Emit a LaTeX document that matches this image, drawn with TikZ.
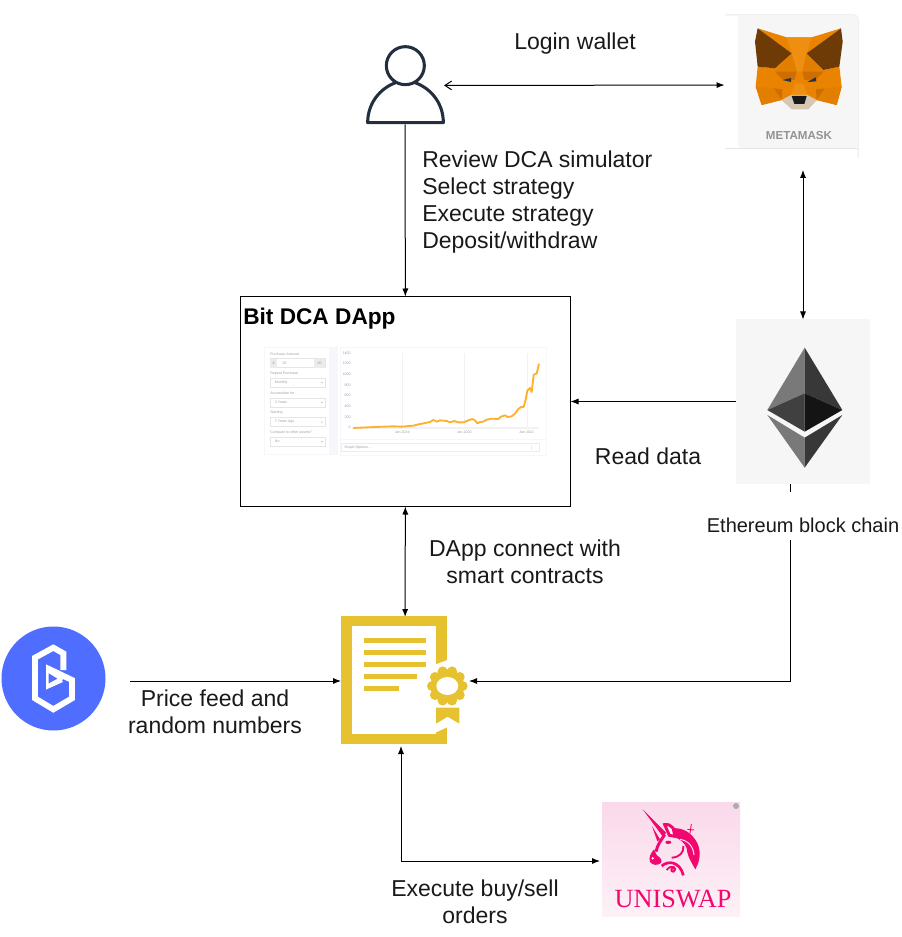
\documentclass[tikz,border=0pt]{standalone}
\usepackage{fontspec}
\setmainfont{Liberation Sans}
\newfontfamily\serifuni{Liberation Serif}
\usetikzlibrary{positioning,calc,arrows.meta}

\definecolor{usercol}{HTML}{232F3E}
\definecolor{cardgray}{HTML}{F6F6F6}
\definecolor{cardline}{HTML}{E6E6E6}
\definecolor{foxmain}{HTML}{E98300}
\definecolor{foxlight}{HTML}{EE8F12}
\definecolor{foxmid}{HTML}{E27E00}
\definecolor{foxdark}{HTML}{CF6E00}
\definecolor{foxear}{HTML}{6E3A06}
\definecolor{foxtan}{HTML}{D6C6B4}
\definecolor{foxeye}{HTML}{233447}
\definecolor{docgold}{HTML}{E6C130}
\definecolor{bandblue}{HTML}{4F6DFF}
\definecolor{unipink}{HTML}{F2076F}
\definecolor{unibg}{HTML}{FAD9EA}
\definecolor{unibgb}{HTML}{FDF1F7}
\definecolor{panelline}{HTML}{F5F7FB}
\definecolor{chartline}{HTML}{FFB030}

\tikzset{
  lbl/.style={font=\fontsize{17.25}{20.25}\selectfont,text=black!90,align=center,inner sep=0pt},
  tinytxt/.style={font=\fontsize{2.7}{3}\selectfont,text=gray!75,anchor=west,inner sep=0pt},
  logobox/.style={inner sep=0pt,outer sep=0pt},
  link/.style={draw=black,line width=.75pt},
}

\begin{document}
\begin{tikzpicture}[x=.75pt,y=-.75pt,>={Latex[length=6pt,width=4.6pt]}]
\useasboundingbox (0,0) rectangle (901,937);

% logo holders
\node[logobox,minimum width=58.5pt,minimum height=58.5pt] (user) at (405,85.5) {};
\node[logobox,minimum width=100.5pt,minimum height=105pt] (metamask) at (791.5,85) {};
\node[logobox,fill=cardgray,minimum width=100.5pt,minimum height=123pt] (ethereum) at (803,401.5) {};
\node[draw,line width=.75pt,minimum width=247.5pt,minimum height=157.5pt,logobox] (dapp) at (405.5,401.5) {};
\node[logobox,minimum width=96pt,minimum height=96pt] (contract) at (405,681) {};
\node[logobox,circle,fill=bandblue,minimum size=78pt] (band) at (53.5,678.5) {};
\node[logobox,top color=unibg,bottom color=unibgb,minimum width=103.5pt,minimum height=85pt] (uniswap) at (671,859.5) {};

\coordinate (mmbottom) at (803,170);
\coordinate (ethbottom) at (790.5,484);
\coordinate (bandout) at (130,681);
\coordinate (contractlow) at (401,746);
\coordinate (uniin) at (600,861);

% connectors
\draw[link,{Straight Barb[length=5pt,width=6.5pt]}->] (user) -- (metamask);
\draw[link,->] (user) -- (dapp);
\draw[link,<->] (mmbottom) -- (ethereum);
\draw[link,->] (ethereum) -- (dapp);
\draw[link,<->] (dapp) -- (contract);
\draw[link,->] (ethbottom) |- (contract);
\draw[link,->] (bandout) -- (contract);
\draw[link,<->] (contractlow) |- (uniin);

% labels
\node[lbl] (loginlbl) at (575,44) {Login wallet};
\node[lbl,align=left,anchor=west] (reviewlbl) at (422,202.5) {Review DCA simulator\\Select strategy\\Execute strategy\\Deposit/withdraw};
\node[lbl] (readlbl) at (648,456.5) {Read data};
\node[lbl] (connectlbl) at (525,561.5) {DApp connect with\\smart contracts};
\node[lbl] (pricelbl) at (215,711.5) {Price feed and\\random numbers};
\node[lbl] (executelbl) at (475,902) {Execute buy/sell\\orders};
\node[anchor=base,inner sep=0pt,fill=white,font=\fontsize{15}{18}\selectfont,text=black!90,text height=30pt,text depth=6pt] (ethlbl) at (803,532) {Ethereum block chain};
\node[anchor=west,inner sep=0pt,font=\fontsize{17}{20}\selectfont\bfseries] (titlelbl) at (243,319) {Bit DCA DApp};

% person
\begin{scope}[shift={(355,35)},x=.25pt,y=-.25pt,draw=usercol,line width=2.3pt]
\draw (151,92) circle (57);
\draw[line join=round] (122,143) .. controls (75,160) and (38,205) .. (38,263) -- (265,263) .. controls (265,205) and (228,160) .. (180,143);
\end{scope}

% metamask
\draw[cardline,line width=.75pt,rounded corners=3pt] (725,15) -- (858,15) -- (858,158);
\fill[cardgray,rounded corners=3pt] (738,15) -- (858,15) -- (858,148) -- (738,148) -- cycle;
\draw[cardline,line width=.75pt] (725,148.5) -- (858,148.5);
\node[inner sep=0pt,font=\fontsize{8.7}{10}\selectfont\bfseries,text=gray!85] (mmtext) at (799,135.5) {METAMASK};
\begin{scope}[shift={(745,20)},x=.25pt,y=-.25pt]
\fill[foxmain] (38,25) -- (125,52) -- (200,52) -- (288,25) -- (185,100) -- (235,150) -- (283,140) -- (290,200) -- (275,255) -- (215,240) -- (190,265) -- (140,265) -- (110,240) -- (50,255) -- (32,200) -- (38,140) -- (90,145) -- (140,100) -- cycle;
\fill[foxlight] (125,52) -- (200,52) -- (185,100) -- (172,155) -- (155,155) -- (140,100) -- cycle;
\fill[foxmid] (90,155) -- (140,100) -- (155,155) -- cycle;
\fill[foxmid] (235,155) -- (185,100) -- (172,155) -- cycle;
\fill[foxdark] (90,155) -- (155,155) -- (148,180) -- (112,178) -- cycle;
\fill[foxdark] (235,155) -- (172,155) -- (178,180) -- (214,178) -- cycle;
\fill[foxear] (38,25) -- (140,100) -- (90,145) -- (38,140) -- (30,65) -- cycle;
\fill[foxear] (288,25) -- (185,100) -- (235,150) -- (283,140) -- (293,65) -- cycle;
\fill[foxdark] (85,205) -- (110,240) -- (112,208) -- cycle;
\fill[foxdark] (240,205) -- (215,240) -- (213,208) -- cycle;
\fill[foxmid] (32,200) -- (85,205) -- (110,240) -- (50,255) -- cycle;
\fill[foxmid] (290,200) -- (240,205) -- (215,240) -- (275,255) -- cycle;
\fill[foxlight] (150,190) -- (175,190) -- (187,225) -- (138,225) -- cycle;
\fill[foxtan] (110,240) -- (138,225) -- (187,225) -- (215,240) -- (190,268) -- (140,268) -- cycle;
\fill[black!90] (140,228) -- (185,228) -- (178,252) -- (148,252) -- cycle;
\fill[foxeye] (112,180) -- (138,174) -- (138,186) -- cycle;
\fill[foxeye] (187,186) -- (212,172) -- (214,184) -- cycle;
\end{scope}

% ethereum
\begin{scope}[shift={(730,315)},x=.25pt,y=-.25pt]
\fill[gray!95!black] (224,98) -- (112,285) -- (224,235) -- cycle;
\fill[black!78] (224,98) -- (337,285) -- (224,235) -- cycle;
\fill[black!75] (112,285) -- (224,235) -- (224,350) -- cycle;
\fill[black!92] (337,285) -- (224,235) -- (224,350) -- cycle;
\fill[gray!95!black] (112,300) -- (224,368) -- (224,458) -- cycle;
\fill[black!78] (337,300) -- (224,368) -- (224,458) -- cycle;
\end{scope}

% contract
\begin{scope}[shift={(330,605)},x=.25pt,y=-.25pt]
\fill[docgold] (33,33) rectangle (352,416);
\fill[white] (67,62) rectangle (318,388);
\fill[white] (318,178) -- (352,165) -- (362,165) -- (362,362) -- (318,382) -- cycle;
\fill[docgold] (103,98) rectangle (287,113);
\fill[docgold] (103,134) rectangle (287,149);
\fill[docgold] (103,171) rectangle (287,186);
\fill[docgold] (103,207) rectangle (262,222);
\fill[docgold] (103,244) rectangle (206,259);
\foreach \ang in {0,36,...,324}{
  \fill[docgold] (352,243) ++(\ang:46) circle (15);
}
\fill[docgold] (352,243) circle (50);
\fill[white] (352,243) ellipse (33 and 27);
\fill[docgold] (318,308) -- (388,308) -- (388,356) -- (353,335) -- (318,356) -- cycle;
\end{scope}

% band logo
\begin{scope}[shift={(0,620)},x=.25pt,y=-.25pt]
\draw[white,line width=4.4pt,miter limit=10] (190,150) -- (190,100) -- (160,83) -- (105,113) -- (105,235) -- (160,268) -- (216,235) -- (216,180) -- (147,147) -- (147,195) -- (185,178);
\fill[white] (138,140) -- (138,208) -- (190,178) -- cycle;
\fill[bandblue] (146,160) -- (146,190) -- (172,176) -- cycle;
\end{scope}

% uniswap
\fill[gray!65] (736,806) circle (3);
\node[inner sep=0pt,font=\fontsize{19.7}{21}\selectfont\serifuni,text=unipink] (unitext) at (673,899) {UNISWAP};
\begin{scope}[shift={(630,800)},x=.25pt,y=-.25pt]
\fill[unipink] (38,28) -- (108,98) -- (100,112) -- cycle;
\fill[unipink] (66,78) -- (90,118) -- (82,124) -- cycle;
\draw[unipink,line width=2.2pt,fill=white!70!unibg] (104,74) .. controls (125,70) and (135,90) .. (140,110) -- (118,106) -- cycle;
\draw[unipink,line width=2.2pt] (104,104) .. controls (92,122) and (82,135) .. (78,155);
\fill[unipink] (72,148) .. controls (62,160) and (55,172) .. (60,186) .. controls (68,197) and (85,197) .. (94,188) .. controls (98,176) and (85,170) .. (80,165) -- cycle;
\fill[white] (68,175) circle (4);
\fill[unipink] (125,85) .. controls (150,82) and (178,92) .. (195,118) .. controls (212,140) and (215,175) .. (196,208) .. controls (186,190) and (172,170) .. (170,145) .. controls (165,128) and (150,118) .. (130,108) -- cycle;
\draw[unibg,line width=.8pt] (150,118) .. controls (175,122) and (190,140) .. (192,165);
\fill[unipink] (115,127) ellipse (9 and 5);
\draw[unipink,line width=1.4pt] (125,173) .. controls (148,172) and (162,158) .. (160,138);
\draw[unipink,line width=2pt] (95,198) .. controls (115,180) and (150,185) .. (160,226);
\draw[unipink,line width=1.4pt] (110,210) .. controls (125,190) and (145,205) .. (130,215) .. controls (122,215) and (122,205) .. (130,205);
\draw[unipink,line width=.7pt] (184,72) -- (180,100);
\draw[unipink,line width=.7pt] (172,88) -- (192,90);
\end{scope}

% screenshot left panel
\begin{scope}[shift={(260,343)},x=.25pt,y=-.25pt]
\draw[panelline,line width=.6pt] (12,12) rectangle (207,335);
\draw[panelline,fill=panelline] (207,12) rectangle (232,335);
\node[tinytxt] (labamount) at (30,33) {Purchase Amount};
\draw[gray!20,line width=.3pt] (30,47) rectangle (195,74);
\fill[gray!15] (30,47) rectangle (52,74);
\fill[gray!15] (162,47) rectangle (195,74);
\node[tinytxt] (valdollar) at (37,60) {\$};
\node[tinytxt] (valamount) at (66,60) {10};
\node[tinytxt] (valcents) at (172,60) {00};
\foreach \n/\ya/\yb/\lab/\val in {repeat/92/119/Repeat Purchase/Monthly,accum/151/178/Accumulate for/3 Years,start/210/237/Starting/7 Years Ago,comp/269/296/Compare to other assets?/No}{
  \draw[gray!20,line width=.3pt] (30,\yb-13) rectangle (195,\yb+14);
  \node[tinytxt] (lab\n) at (30,\ya) {\lab};
  \node[tinytxt] (val\n) at (44,\yb) {\val};
  \fill[gray!80] (186,\yb) circle (2);
}
\end{scope}

% screenshot chart
\begin{scope}[shift={(335,343)},x=.25pt,y=-.25pt]
\draw[panelline,line width=.6pt] (15,12) rectangle (635,338);
\draw[panelline,line width=.6pt] (15,290) -- (635,290);
\foreach \gx in {202,388,575}{
  \draw[gray!10,line width=.25pt] (\gx,30) -- (\gx,255);
}
\fill[gray!10] (50,253) rectangle (612,258);
\foreach \v/\yy in {1400/30,1200/62,1000/94,800/126,600/158,400/190,200/222,0/254}{
  \node[tinytxt,anchor=east] (ytick\v) at (48,\yy) {\v};
}
\foreach \yr/\xx in {2019/202,2020/388,2021/575}{
  \node[tinytxt,anchor=center] (xtick\yr) at (\xx,267) {Jan \yr};
}
\draw[chartline,line width=1.4pt,line join=round] (55,255) -- (120,252) -- (175,250) -- (200,251) -- (235,248) -- (255,243) -- (270,240) -- (285,237) -- (295,231) -- (305,236) -- (315,232) -- (335,234) -- (345,238) -- (358,234) -- (370,238) -- (385,238) -- (400,232) -- (412,228) -- (420,232) -- (427,241) -- (435,237) -- (445,236) -- (455,230) -- (470,227) -- (490,228) -- (498,221) -- (510,217) -- (518,222) -- (530,220) -- (540,212) -- (550,198) -- (558,192) -- (566,192) -- (572,170) -- (577,143) -- (585,135) -- (590,147) -- (596,95) -- (605,92) -- (612,62);
\draw[gray!15,line width=.3pt] (20,302) rectangle (612,326);
\draw[gray!15,line width=.3pt] (590,306) -- (590,322);
\node[tinytxt] (graphopts) at (28,314) {Graph Options...};
\end{scope}
\end{tikzpicture}
\end{document}
